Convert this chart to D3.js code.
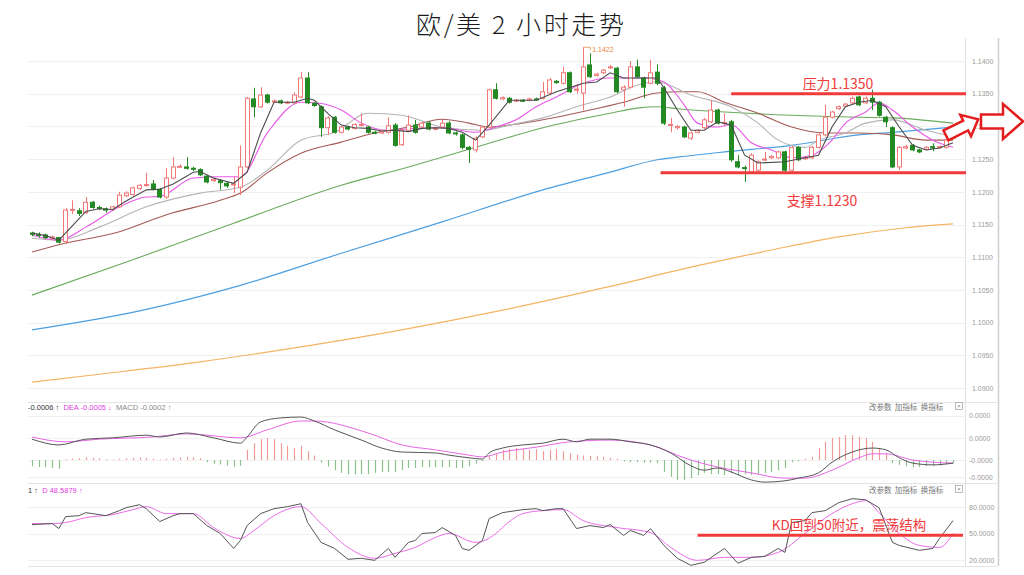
<!DOCTYPE html>
<html><head><meta charset="utf-8">
<script src="https://cdn.jsdelivr.net/npm/d3@7"></script>
<style>body{margin:0;background:#fff;}svg{display:block;}</style>
</head><body>
<svg id="c" width="1024" height="575"></svg>
<script>
// ---------- DATA ----------
const title = "欧/美 2 小时走势";
const opens = [1.1137,1.1135,1.1134,1.1129,1.1130,1.1124,1.1172,1.1171,1.1168,1.1184,1.1176,1.1174,1.1173,1.1177,1.1194,1.1196,1.1205,1.1210,1.1212,1.1204,
1.1192,1.1221,1.1238,1.1238,1.1236,1.1234,1.1224,1.1217,1.1217,1.1213,1.1211,1.1207,1.1238,1.1342,1.1330,1.1348,1.1338,1.1339,1.1336,1.1336,
1.1345,1.1374,1.1335,1.1330,1.1298,1.1314,1.1291,1.1299,1.1297,1.1302,1.1299,1.1291,1.1290,1.1291,1.1302,1.1272,1.1294,1.1302,1.1299,1.1305,
1.1296,1.1299,1.1305,1.1290,1.1287,1.1268,1.1264,1.1284,1.1299,1.1356,1.1342,1.1343,1.1339,1.1340,1.1340,1.1342,1.1343,1.1351,1.1369,1.1366,
1.1382,1.1356,1.1351,1.1394,1.1378,1.1382,1.1390,1.1389,1.1356,1.1360,1.1391,1.1374,1.1366,1.1383,1.1359,1.1302,1.1298,1.1299,1.1282,1.1291,
1.1298,1.1307,1.1325,1.1305,1.1307,1.1246,1.1237,1.1230,1.1233,1.1249,1.1252,1.1252,1.1261,1.1233,1.1268,1.1251,1.1252,1.1268,1.1287,1.1314,
1.1327,1.1331,1.1336,1.1345,1.1336,1.1343,1.1337,1.1314,1.1298,1.1238,1.1267,1.1271,1.1264,1.1265,1.1269,1.1268,1.1268,1.1282];
const closes = [1.1135,1.1134,1.1130,1.1131,1.1123,1.1172,1.1173,1.1167,1.1184,1.1176,1.1175,1.1172,1.1177,1.1195,1.1198,1.1206,1.1210,1.1211,1.1204,1.1192,
1.1221,1.1238,1.1239,1.1236,1.1235,1.1226,1.1215,1.1219,1.1214,1.1209,1.1212,1.1238,1.1343,1.1330,1.1348,1.1337,1.1339,1.1336,1.1337,1.1348,
1.1374,1.1336,1.1332,1.1298,1.1313,1.1291,1.1299,1.1296,1.1303,1.1303,1.1291,1.1290,1.1292,1.1301,1.1271,1.1294,1.1302,1.1291,1.1305,1.1296,
1.1297,1.1305,1.1290,1.1289,1.1268,1.1265,1.1282,1.1299,1.1356,1.1343,1.1344,1.1337,1.1340,1.1339,1.1342,1.1341,1.1353,1.1371,1.1367,1.1382,
1.1353,1.1357,1.1391,1.1376,1.1380,1.1386,1.1391,1.1353,1.1360,1.1391,1.1376,1.1360,1.1382,1.1366,1.1305,1.1303,1.1300,1.1284,1.1290,1.1294,
1.1310,1.1325,1.1305,1.1306,1.1249,1.1238,1.1236,1.1256,1.1246,1.1250,1.1254,1.1261,1.1233,1.1268,1.1249,1.1252,1.1268,1.1287,1.1314,1.1322,
1.1330,1.1334,1.1343,1.1333,1.1343,1.1337,1.1317,1.1307,1.1238,1.1268,1.1269,1.1264,1.1261,1.1268,1.1267,1.1269,1.1279,1.1287];
const highs = [1.1139,1.1138,1.1136,1.1133,1.1131,1.1175,1.1187,1.1175,1.1192,1.1186,1.1179,1.1176,1.1179,1.1200,1.1201,1.1208,1.1212,1.1229,1.1218,1.1206,
1.1236,1.1253,1.1242,1.1253,1.1238,1.1236,1.1226,1.1222,1.1219,1.1215,1.1223,1.1271,1.1345,1.1359,1.1360,1.1350,1.1341,1.1341,1.1339,1.1352,
1.1383,1.1383,1.1337,1.1332,1.1316,1.1316,1.1301,1.1301,1.1305,1.1320,1.1301,1.1293,1.1294,1.1314,1.1305,1.1296,1.1317,1.1310,1.1307,1.1308,
1.1299,1.1310,1.1308,1.1292,1.1289,1.1270,1.1285,1.1301,1.1358,1.1366,1.1346,1.1345,1.1342,1.1342,1.1344,1.1344,1.1368,1.1374,1.1371,1.1391,
1.1384,1.1365,1.1421,1.1412,1.1382,1.1388,1.1394,1.1391,1.1363,1.1400,1.1402,1.1376,1.1402,1.1395,1.1362,1.1313,1.1302,1.1301,1.1292,1.1296,
1.1313,1.1340,1.1327,1.1320,1.1310,1.1256,1.1240,1.1259,1.1248,1.1261,1.1256,1.1263,1.1263,1.1270,1.1270,1.1254,1.1270,1.1290,1.1333,1.1324,
1.1332,1.1336,1.1346,1.1347,1.1346,1.1356,1.1339,1.1316,1.1300,1.1270,1.1272,1.1273,1.1266,1.1270,1.1274,1.1271,1.1281,1.1289];
const lows = [1.1132,1.1130,1.1128,1.1126,1.1121,1.1120,1.1166,1.1163,1.1166,1.1174,1.1172,1.1168,1.1171,1.1175,1.1192,1.1194,1.1203,1.1208,1.1202,1.1190,
1.1189,1.1219,1.1236,1.1234,1.1232,1.1224,1.1213,1.1215,1.1203,1.1206,1.1198,1.1195,1.1236,1.1314,1.1328,1.1335,1.1336,1.1334,1.1334,1.1334,
1.1343,1.1334,1.1330,1.1284,1.1287,1.1289,1.1289,1.1294,1.1295,1.1300,1.1289,1.1288,1.1288,1.1289,1.1269,1.1270,1.1292,1.1289,1.1297,1.1294,
1.1294,1.1297,1.1288,1.1286,1.1265,1.1244,1.1260,1.1282,1.1297,1.1341,1.1340,1.1335,1.1337,1.1337,1.1338,1.1339,1.1341,1.1349,1.1365,1.1364,
1.1351,1.1350,1.1325,1.1374,1.1376,1.1380,1.1388,1.1351,1.1330,1.1358,1.1374,1.1343,1.1364,1.1363,1.1302,1.1291,1.1295,1.1282,1.1279,1.1289,
1.1296,1.1305,1.1303,1.1302,1.1246,1.1236,1.1215,1.1228,1.1230,1.1247,1.1250,1.1250,1.1230,1.1230,1.1247,1.1249,1.1250,1.1266,1.1285,1.1312,
1.1325,1.1330,1.1334,1.1331,1.1334,1.1325,1.1315,1.1299,1.1236,1.1233,1.1265,1.1262,1.1259,1.1263,1.1262,1.1266,1.1266,1.1280];

// moving averages, [candle index, price]
const ma5 = [[0,1.1137],[2,1.1133],[4,1.1126],[6,1.1148],[8,1.1170],[10,1.1174],[12,1.1173],[14,1.1186],[17,1.1203],[19,1.1204],[21,1.1212],[24,1.1230],[25,1.1231],[27,1.1221],[30,1.1213],[32,1.1230],[34,1.1290],[36,1.1337],[39,1.1337],[41,1.1343],[42,1.1340],[44,1.1320],[46,1.1302],[48,1.1298],[50,1.1297],[52,1.1293],[54,1.1294],[56,1.1292],[58,1.1297],[60,1.1298],[62,1.1297],[64,1.1291],[66,1.1279],[68,1.1302],[71,1.1340],[75,1.1340],[78,1.1353],[82,1.1366],[84,1.1368],[86,1.1382],[88,1.1374],[93,1.1374],[94,1.1359],[96,1.1325],[98,1.1294],[100,1.1294],[102,1.1307],[104,1.1302],[106,1.1256],[108,1.1244],[112,1.1246],[115,1.1252],[117,1.1256],[119,1.1299],[121,1.1330],[123,1.1337],[125,1.1340],[127,1.1330],[129,1.1299],[131,1.1271],[133,1.1264],[135,1.1267],[137,1.1275]];
const ma10 = [[0,1.1134],[4,1.1126],[8,1.1146],[13,1.1177],[17,1.1192],[19,1.1193],[24,1.1221],[28,1.1223],[31,1.1223],[35,1.1290],[40,1.1337],[43,1.1335],[46,1.1325],[49,1.1305],[53,1.1294],[57,1.1297],[61,1.1298],[66,1.1291],[69,1.1299],[72,1.1310],[75,1.1330],[78,1.1345],[82,1.1366],[86,1.1374],[91,1.1374],[94,1.1368],[97,1.1333],[99,1.1305],[102,1.1299],[104,1.1303],[107,1.1275],[110,1.1264],[113,1.1252],[116,1.1256],[119,1.1279],[121,1.1305],[124,1.1322],[126,1.1336],[128,1.1325],[131,1.1299],[134,1.1279],[137,1.1268]];
const ma20 = [[0,1.1129],[4,1.1126],[10,1.1146],[17,1.1177],[25,1.1198],[31,1.1207],[35,1.1233],[40,1.1279],[45,1.1291],[50,1.1320],[55,1.1317],[61,1.1299],[67,1.1294],[71,1.1302],[76,1.1313],[81,1.1330],[86,1.1345],[90,1.1363],[93,1.1368],[98,1.1348],[104,1.1330],[108,1.1305],[111,1.1279],[115,1.1268],[117,1.1279],[121,1.1290],[124,1.1305],[128,1.1310],[133,1.1294],[137,1.1284]];
const ma30 = [[0,1.1108],[4,1.1119],[13,1.1139],[20,1.1165],[28,1.1187],[31,1.1198],[35,1.1229],[40,1.1259],[46,1.1276],[51,1.1290],[56,1.1299],[61,1.1311],[65,1.1305],[68,1.1299],[73,1.1305],[78,1.1314],[83,1.1325],[88,1.1337],[93,1.1351],[97,1.1353],[99,1.1353],[103,1.1337],[108,1.1320],[113,1.1299],[118,1.1290],[123,1.1290],[128,1.1287],[133,1.1279],[137,1.1279]];
const ma60 = [[0,1.1042],[15,1.1096],[30,1.1152],[46,1.1210],[56,1.1238],[66,1.1268],[76,1.1298],[86,1.1320],[90,1.1328],[93,1.1330],[96,1.1327],[103,1.1322],[113,1.1317],[123,1.1314],[128,1.1313],[137,1.1305]];
const ma120 = [[0,1.0989],[16,1.1018],[31,1.1057],[46,1.1106],[61,1.1154],[76,1.1203],[86,1.1230],[93,1.1249],[96,1.1253],[103,1.1261],[113,1.1271],[123,1.1287],[128,1.1291],[137,1.1299]];
const ma250 = [[0,1.0909],[10,1.0921],[25,1.0940],[40,1.0963],[55,1.0989],[70,1.1019],[85,1.1053],[99,1.1087],[110,1.1111],[120,1.1131],[130,1.1145],[137,1.1151]];

const priceTicks = [1.1400,1.1350,1.1300,1.1250,1.1200,1.1150,1.1100,1.1050,1.1000,1.0950,1.0900];
const levels = [
  {label:"压力1.1350", value:1.1350, from:104},
  {label:"支撑1.1230", value:1.1229, from:93.5}
];
const peakLabel = {text:"1.1422", index:82, value:1.1421};

// MACD (units of 0.0001)
const dif = [[0,4.7],[4,3.4],[8,4.7],[12,5.0],[17,5.6],[19,5.2],[23,6.1],[27,5.0],[31,3.8],[32,5.2],[34,8.6],[37,9.5],[40,9.7],[42,8.8],[45,6.8],[49,4.5],[52,2.7],[55,1.8],[60,1.6],[62,1.1],[65,0.5],[67,0.2],[68,1.6],[70,2.7],[73,3.4],[76,3.8],[79,4.7],[81,4.1],[83,4.7],[86,4.7],[89,4.1],[92,3.4],[95,1.6],[98,-1.3],[100,-2.3],[102,-1.8],[104,-2.7],[107,-4.5],[109,-5.0],[112,-4.7],[114,-4.1],[117,-2.9],[119,-0.5],[122,1.8],[125,2.7],[127,2.3],[129,0.5],[131,-0.7],[134,-1.1],[137,-0.7]];
const dea = [[0,5.2],[5,4.1],[10,4.7],[18,5.2],[23,5.9],[31,5.0],[35,6.8],[40,8.8],[42,8.8],[50,6.1],[55,3.4],[60,2.3],[65,1.1],[67,0.7],[70,1.8],[75,2.9],[80,4.1],[86,4.5],[92,3.4],[97,0.5],[102,-1.6],[107,-2.9],[112,-4.1],[115,-4.1],[119,-2.3],[123,0.5],[125,1.4],[127,1.4],[131,0],[134,-0.5],[137,-0.7]];
const hist = [-1.4,-1.6,-1.6,-1.8,-2.0,
0.2,0.3,0.4,0.6,0.5,0.4,0.2,0.1,0.3,0.4,0.5,0.6,0.5,0.3,0.1,0.3,0.5,
0.6,0.7,0.6,0.4,
-0.5,-0.8,-1.0,-1.3,-1.5,-1.3,
2.3,3.8,4.7,5.0,4.7,3.8,3.2,2.7,3.2,2.0,1.0,
-0.6,-1.5,-2.3,-2.9,-3.2,-3.2,-3.2,-3.2,-2.9,-2.7,-2.7,-2.7,-2.3,-1.8,-1.8,-1.6,-1.6,-1.6,-1.6,-1.6,-1.8,-1.8,-1.4,-0.8,-0.3,
0.8,1.5,2.3,2.5,2.7,2.5,2.3,2.5,2.0,2.3,2.5,2.0,1.5,1.2,1.0,0.9,0.8,0.7,0.5,0.3,
-0.3,-0.5,-0.5,-0.6,-0.6,-0.7,
-2.7,-3.8,-4.5,-4.5,-4.1,-3.4,-2.9,
-3.2,-3.2,-3.4,-3.0,-3.4,-3.2,-3.4,-3.2,-3.0,
-2.7,-2.3,-1.8,-0.5,-0.3,
0.3,0.7,2.7,4.1,5.0,5.2,5.6,5.6,5.2,5.0,4.1,2.7,1.6,
-0.7,-1.1,-1.4,-1.6,-1.6,-1.4,-1.4,-1.2,-1.0,-0.8];
const macdTicks = [10,5,0,-3.9];
const macdTickLabels = ["0.0000","0.0000","-0.0000","-0.0000"];
const macdLegend = [["-0.0006 ↑","#333"],["DEA -0.0005 ↓","#e040e0"],["MACD -0.0002 ↑","#888"]];

// KD
const kLine = [[0,60.1],[3,61.2],[4,55.6],[5,69.1],[7,70.2],[8,73.6],[9,72.5],[11,70.2],[13,75.9],[14,79.2],[16,82.6],[17,78.1],[19,63.5],[21,70.2],[22,72.5],[24,72.5],[26,59.0],[28,50.0],[30,33.1],[31,42.1],[32,59.0],[34,72.5],[36,78.1],[38,80.4],[40,83.7],[41,62.4],[43,39.9],[45,33.1],[47,20.8],[49,21.9],[51,19.6],[53,33.1],[54,23.0],[56,39.9],[57,42.1],[58,50.0],[60,51.1],[61,56.7],[63,47.8],[64,33.1],[65,30.9],[67,42.1],[68,66.9],[70,73.6],[73,77.0],[75,78.1],[76,75.9],[78,78.1],[79,78.1],[81,55.6],[83,59.0],[85,56.7],[86,60.1],[88,47.8],[89,53.4],[91,47.8],[92,55.6],[94,36.5],[96,21.9],[98,14.0],[100,17.4],[103,33.1],[105,16.3],[107,23.0],[109,24.1],[111,33.1],[112,28.6],[113,62.4],[115,64.6],[116,73.6],[118,75.9],[120,84.9],[122,89.4],[124,88.2],[126,79.2],[128,39.9],[129,36.5],[132,30.9],[134,33.1],[135,44.4],[137,64.6]];
const dLine = [[0,61.2],[3,61.2],[5,62.4],[8,68.0],[12,71.4],[15,77.0],[17,80.4],[20,72.5],[24,72.5],[27,56.7],[31,44.4],[33,53.4],[36,70.2],[40,80.4],[43,61.2],[47,34.3],[51,21.9],[54,27.5],[57,34.3],[60,45.5],[62,50.0],[66,39.9],[69,50.0],[70,57.0],[73,72.5],[76,75.9],[79,77.0],[82,64.6],[87,56.7],[92,51.1],[95,34.3],[99,19.6],[103,23.0],[107,23.0],[111,28.6],[115,50.0],[119,72.5],[122,83.7],[124,87.1],[126,73.6],[129,50.0],[132,36.5],[135,34.3],[137,50.0]];
const kdTicks = [80,50,20];
const kdTickLabels = ["80.0000","50.0000","20.0000"];
const kdLegend = [["1 ↑","#333"],["D 48.5879 ↑","#e040e0"]];
const kdNote = {label:"KD回到50附近，震荡结构", value:48, from:99};
const panelTools = "改参数  加指标  换指标";

// ---------- DRAWING ----------
const svg = d3.select("#c");
const L = 28, R = 965, R2 = 998;
const FONT = "'Liberation Sans', Arial, sans-serif";
const CJK = "'Noto Sans CJK SC', 'Noto Sans', sans-serif";
const red = "#f03b3b";

const x = d3.scaleLinear().domain([0, opens.length - 1]).range([32, 953]);
const bw = (x(1) - x(0)) * 0.74;
const yP = d3.scaleLinear().domain([1.09, 1.14]).range([388, 61]);
const yM = d3.scaleLinear().domain([0, 10]).range([460, 415.7]);
const yK = d3.scaleLinear().domain([20, 80]).range([560, 507]);

svg.append("rect").attr("width",1024).attr("height",575).attr("fill","#fff");

// title
svg.append("text").attr("x",520).attr("y",34).attr("text-anchor","middle")
  .attr("font-family",CJK).attr("font-size",25).attr("font-weight",300).attr("fill","#1a1a1a")
  .attr("textLength",208).attr("lengthAdjust","spacing").text(title);

// frames
const frame = svg.append("g").attr("fill","none");
[402,483,566].forEach(yy => frame.append("line").attr("x1",L).attr("x2",R2).attr("y1",yy+0.5).attr("y2",yy+0.5).attr("stroke","#e4e4e4"));
frame.append("line").attr("x1",R+0.5).attr("x2",R+0.5).attr("y1",38).attr("y2",566).attr("stroke","#e2e2e2");
frame.append("line").attr("x1",R2+0.5).attr("x2",R2+0.5).attr("y1",38).attr("y2",566).attr("stroke","#cfcfcf").attr("stroke-width",1.5);

// grid
const grid = svg.append("g").attr("stroke","#f1f1f1");
priceTicks.forEach(t => grid.append("line").attr("x1",L).attr("x2",R).attr("y1",Math.round(yP(t))+0.5).attr("y2",Math.round(yP(t))+0.5));
macdTicks.forEach(t => grid.append("line").attr("x1",L).attr("x2",R).attr("y1",Math.round(yM(t))+0.5).attr("y2",Math.round(yM(t))+0.5));
kdTicks.forEach(t => grid.append("line").attr("x1",L).attr("x2",R).attr("y1",Math.round(yK(t))+0.5).attr("y2",Math.round(yK(t))+0.5));

// axes
function styleAxis(g){
  g.select(".domain").remove();
  g.selectAll("line").remove();
  g.selectAll("text").attr("font-family",FONT).attr("font-size",7).attr("fill","#9a9a9a");
}
svg.append("g").attr("transform",`translate(${R},0)`)
  .call(d3.axisRight(yP).tickValues(priceTicks).tickFormat(d3.format(".4f")).tickSize(0).tickPadding(7)).call(styleAxis);
svg.append("g").attr("transform",`translate(${R},0)`)
  .call(d3.axisRight(yM).tickValues(macdTicks).tickFormat((d,i)=>macdTickLabels[i]).tickSize(0).tickPadding(4)).call(styleAxis);
svg.append("g").attr("transform",`translate(${R},0)`)
  .call(d3.axisRight(yK).tickValues(kdTicks).tickFormat((d,i)=>kdTickLabels[i]).tickSize(0).tickPadding(4)).call(styleAxis);

// clip
svg.append("clipPath").attr("id","plot").append("rect").attr("x",L).attr("y",38).attr("width",R-L).attr("height",528);
const plot = svg.append("g").attr("clip-path","url(#plot)");

// moving averages
function maLine(data, color, curve, w){
  plot.append("path").datum(data).attr("fill","none").attr("stroke",color).attr("stroke-width",w||1.1)
    .attr("d", d3.line().x(d=>x(d[0])).y(d=>yP(d[1])).curve(curve||d3.curveMonotoneX));
}
maLine(ma250, "#f5b463", null, 1.2);
maLine(ma120, "#4d9fe0", null, 1.2);
maLine(ma60, "#6aab5c");
maLine(ma30, "#a65a55");
maLine(ma20, "#b5b5b5");
maLine(ma10, "#e858e8", d3.curveMonotoneX);

// candles
const upC = "#f27878", dnC = "#238a23";
const cg = plot.append("g");
opens.forEach((o,i) => {
  const c = closes[i], up = c >= o, col = up ? upC : dnC;
  const cx = Math.round(x(i)) + 0.5;
  cg.append("line").attr("x1",cx).attr("x2",cx).attr("y1",yP(highs[i])).attr("y2",yP(lows[i])).attr("stroke",col);
  const top = yP(Math.max(o,c)), h = Math.max(1, Math.abs(yP(o)-yP(c)));
  cg.append("rect").attr("x",Math.round(x(i)-bw/2)+0.5).attr("y",top).attr("width",Math.round(bw)-1).attr("height",h)
    .attr("fill", up ? "#fff" : dnC).attr("stroke",col).attr("stroke-width",1);
});
maLine(ma5, "#4a4a4a", d3.curveLinear);

// peak label
const px = x(peakLabel.index), py = yP(peakLabel.value);
svg.append("path").attr("d",`M${px},${py}H${px+7}V${py+3}`).attr("fill","none").attr("stroke","#e8904c").attr("stroke-width",0.8);
svg.append("text").attr("x",px+9).attr("y",py+5).attr("font-family",FONT).attr("font-size",7).attr("fill","#e8843c").text(peakLabel.text);

// support / resistance
levels.forEach((lv,i) => {
  const yy = yP(lv.value);
  svg.append("line").attr("x1",x(lv.from)).attr("x2",R+1).attr("y1",yy).attr("y2",yy).attr("stroke",red).attr("stroke-width",3);
});
svg.append("text").attr("x",838).attr("y",yP(levels[0].value)-5).attr("text-anchor","middle")
  .attr("font-family",CJK).attr("font-size",14).attr("fill",red).text(levels[0].label);
svg.append("text").attr("x",822).attr("y",yP(levels[1].value)+33).attr("text-anchor","middle")
  .attr("font-family",CJK).attr("font-size",14).attr("fill",red).text(levels[1].label);

// arrows
function arrowPts(len, head, sh, hh){
  return [[0,-sh],[len-head,-sh],[len-head,-hh],[len,0],[len-head,hh],[len-head,sh],[0,sh]];
}
const ay = yP(1.1300) - 5;
svg.append("polygon").attr("points", arrowPts(36,14,5.5,12).map(p=>p.join(",")).join(" "))
  .attr("transform",`translate(946,${ay+14}) rotate(-26.6)`).attr("fill","#fff").attr("stroke","#e41e1e").attr("stroke-width",2.5).attr("stroke-linejoin","miter");
svg.append("polygon").attr("points", arrowPts(42,20,7,17.5).map(p=>p.join(",")).join(" "))
  .attr("transform",`translate(981,${ay})`).attr("fill","#fff").attr("stroke","#e41e1e").attr("stroke-width",2.5).attr("stroke-linejoin","miter");

// MACD panel
plot.append("g").selectAll("line").data(hist).join("line")
  .attr("x1",(d,i)=>Math.round(x(i))+0.5).attr("x2",(d,i)=>Math.round(x(i))+0.5)
  .attr("y1",yM(0)).attr("y2",d=>yM(d)).attr("stroke",d=>d>=0?"#f29a9a":"#8cc08c").attr("stroke-width",1.2);
plot.append("path").datum(dea).attr("fill","none").attr("stroke","#e866e8").attr("stroke-width",1)
  .attr("d",d3.line().x(d=>x(d[0])).y(d=>yM(d[1])).curve(d3.curveMonotoneX));
plot.append("path").datum(dif).attr("fill","none").attr("stroke","#555").attr("stroke-width",1)
  .attr("d",d3.line().x(d=>x(d[0])).y(d=>yM(d[1])).curve(d3.curveMonotoneX));

// KD panel
plot.append("path").datum(dLine).attr("fill","none").attr("stroke","#ea6cea").attr("stroke-width",1)
  .attr("d",d3.line().x(d=>x(d[0])).y(d=>yK(d[1])).curve(d3.curveMonotoneX));
plot.append("path").datum(kLine).attr("fill","none").attr("stroke","#555").attr("stroke-width",1)
  .attr("d",d3.line().x(d=>x(d[0])).y(d=>yK(d[1])));
svg.append("line").attr("x1",x(kdNote.from)).attr("x2",R-2).attr("y1",yK(kdNote.value)).attr("y2",yK(kdNote.value))
  .attr("stroke",red).attr("stroke-width",3);
svg.append("text").attr("x",849).attr("y",yK(kdNote.value)-5).attr("text-anchor","middle")
  .attr("font-family",CJK).attr("font-size",13.5).attr("fill",red).text(kdNote.label);

// legends
function legend(items, y0){
  const t = svg.append("text").attr("x",28).attr("y",y0).attr("font-family",FONT).attr("font-size",7.5).attr("xml:space","preserve");
  items.forEach((it,i)=> t.append("tspan").attr("fill",it[1]).text((i?"  ":"")+it[0]));
}
legend(macdLegend, 410);
legend(kdLegend, 493);

// panel tools
[410,493].forEach(yy => {
  svg.append("text").attr("x",869).attr("y",yy).attr("font-family",CJK).attr("font-size",7.5).attr("fill","#777")
    .attr("xml:space","preserve").text(panelTools);
  svg.append("rect").attr("x",955.5).attr("y",yy-7.5).attr("width",7).attr("height",7).attr("fill","#fff").attr("stroke","#aaa").attr("stroke-width",0.8);
  svg.append("text").attr("x",959).attr("y",yy-1.8).attr("text-anchor","middle").attr("font-family",FONT).attr("font-size",6).attr("fill","#888").text("×");
});
</script>
</body></html>
